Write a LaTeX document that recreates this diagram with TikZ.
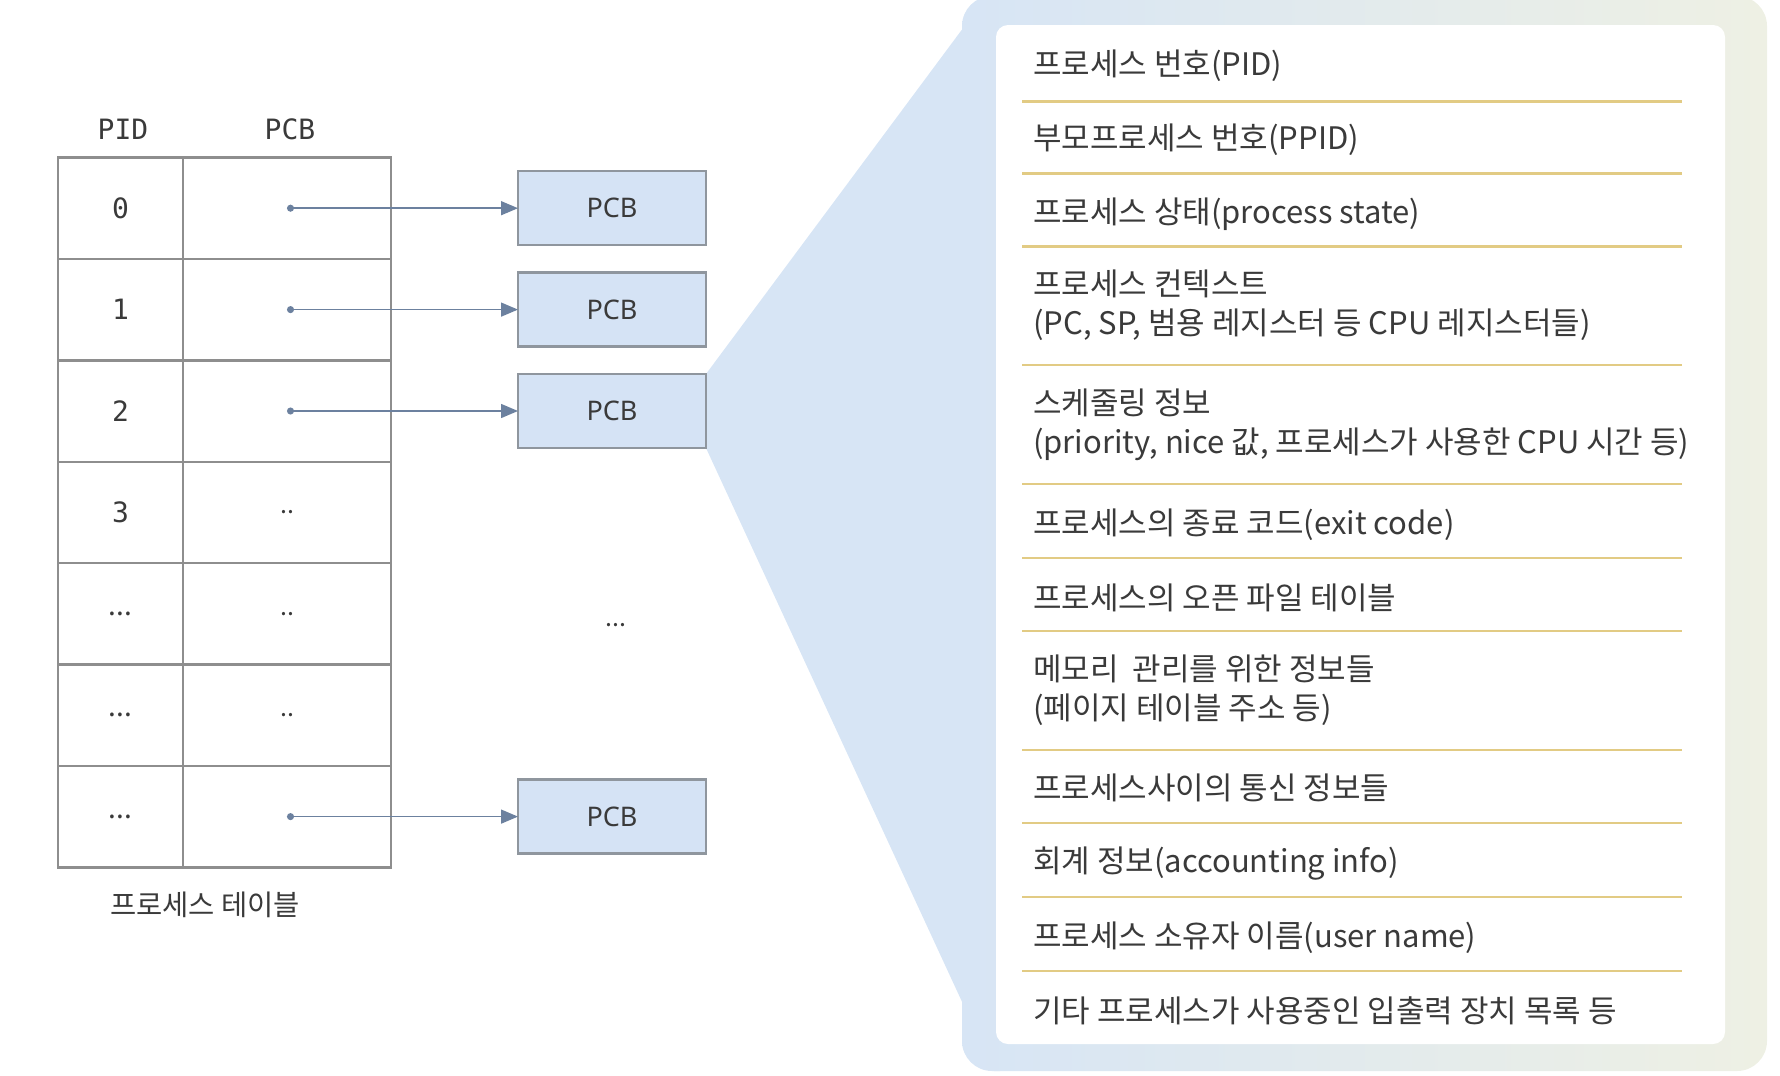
\documentclass[tikz,border=0pt]{standalone}
\usepackage{fontspec}
\setmainfont{Noto Sans CJK KR}
\newfontfamily\monofont{DejaVu Sans Mono}
\newfontfamily\boxfont{Noto Sans}
\usetikzlibrary{arrows.meta, positioning, backgrounds}
\definecolor{tablegray}{HTML}{8E8E8E}
\definecolor{pcbfill}{HTML}{D5E3F5}
\definecolor{pcbdraw}{HTML}{8F969E}
\definecolor{arrowblue}{HTML}{6C819F}
\definecolor{funnelblue}{HTML}{D7E5F5}
\definecolor{cream}{HTML}{EEF0E4}
\definecolor{dividergold}{HTML}{E2CB84}
\definecolor{ink}{HTML}{3A3A3A}

\begin{document}
\begin{tikzpicture}[
    x=1pt, y=-1pt,
    node distance=0pt,
    cell/.style={rectangle, draw=tablegray, line width=2.4pt, minimum height=101.4pt, inner sep=0pt, outer sep=0pt, text=ink},
    pidcell/.style={cell, minimum width=125pt, font=\monofont\fontsize{28}{30}\selectfont},
    ptrcell/.style={cell, minimum width=208pt, font=\fontsize{25}{30}\selectfont},
    head/.style={font=\monofont\fontsize{28}{30}\selectfont, text=ink},
    pcb/.style={rectangle, draw=pcbdraw, fill=pcbfill, line width=2.4pt, minimum width=188pt, minimum height=74pt, outer sep=0pt, font=\boxfont\fontsize{27}{30}\selectfont, text=ink},
    arr/.style={{Circle[length=7pt]}-{Triangle[length=17pt, width=14pt]}, line width=1.5pt, draw=arrowblue, color=arrowblue},
    item/.style={anchor=west, align=left, inner sep=0pt, font=\fontsize{31}{39}\selectfont, text=ink},
    divider/.style={draw=dividergold, line width=2.6pt}
]
\useasboundingbox (0,0) rectangle (1780,1076);

% Process table
\node[pidcell] (pid0) at (120.5,208.2) {0};
\node[pidcell, below=of pid0] (pid1) {1};
\node[pidcell, below=of pid1] (pid2) {2};
\node[pidcell, below=of pid2] (pid3) {3};
\node[pidcell, below=of pid3] (pid4) {\rmfamily ...};
\node[pidcell, below=of pid4] (pid5) {\rmfamily ...};
\node[pidcell, below=of pid5] (pid6) {\rmfamily ...};

\node[ptrcell, right=of pid0] (ptr0) {};
\node[ptrcell, right=of pid1] (ptr1) {};
\node[ptrcell, right=of pid2] (ptr2) {};
\node[ptrcell, right=of pid3] (ptr3) {..};
\node[ptrcell, right=of pid4] (ptr4) {..};
\node[ptrcell, right=of pid5] (ptr5) {..};
\node[ptrcell, right=of pid6] (ptr6) {};

\node[head] (hpid) at (123,129) {PID};
\node[head] (hpcb) at (290,129) {PCB};

% PCBs
\node[pcb, right=127pt of ptr0] (box0) {PCB};
\node[pcb, right=127pt of ptr1] (box1) {PCB};
\node[pcb, right=127pt of ptr2] (box2) {PCB};
\node[pcb, right=127pt of ptr6] (box6) {PCB};
\node[font=\fontsize{25}{30}\selectfont, text=ink] (more) at (616,625) {...};

% Arrows
\draw[arr] (ptr0.center) -- (box0);
\draw[arr] (ptr1.center) -- (box1);
\draw[arr] (ptr2.center) -- (box2);
\draw[arr] (ptr6.center) -- (box6);

% Labels
\node[font=\fontsize{28.5}{30}\selectfont, text=ink] (tablename) at (205,905) {프로세스 테이블};

% PCB detail panel
\begin{scope}[on background layer]
\fill[funnelblue] (box2.north east) -- (975,12) -- (1000,-4) -- (1000,1071) -- (994,1071) -- (box2.south east) -- cycle;
\shade[left color=funnelblue, right color=cream, rounded corners=30pt] (962,-4) rectangle (1767,1071);
\fill[white, rounded corners=12pt] (996,25) rectangle (1725,1044);
\end{scope}

\node[item] (f1) at (1033,66) {프로세스 번호(PID)};
\node[item] (f2) at (1033,140) {부모프로세스 번호(PPID)};
\node[item] (f3) at (1033,214) {프로세스 상태(process state)};
\node[item] (f4) at (1033,305.5) {프로세스 컨텍스트\\(PC, SP, 범용 레지스터 등 CPU 레지스터들)};
\node[item] (f5) at (1033,424.5) {스케줄링 정보\\(priority, nice 값, 프로세스가 사용한 CPU 시간 등)};
\node[item] (f6) at (1033,525) {프로세스의 종료 코드(exit code)};
\node[item] (f7) at (1033,598) {프로세스의 오픈 파일 테이블};
\node[item] (f8) at (1033,690) {메모리~~관리를 위한 정보들\\(페이지 테이블 주소 등)};
\node[item] (f9) at (1033,788) {프로세스사이의 통신 정보들};
\node[item] (f10) at (1033,864) {회계 정보(accounting info)};
\node[item] (f11) at (1033,938) {프로세스 소유자 이름(user name)};
\node[item] (f12) at (1033,1011) {기타 프로세스가 사용중인 입출력 장치 목록 등};

\draw[divider] (1022,101.5) -- (1682,101.5);
\draw[divider] (1022,173.4) -- (1682,173.4);
\draw[divider] (1022,246.5) -- (1682,246.5);
\draw[divider] (1022,365) -- (1682,365);
\draw[divider] (1022,484) -- (1682,484);
\draw[divider] (1022,558) -- (1682,558);
\draw[divider] (1022,631) -- (1682,631);
\draw[divider] (1022,750) -- (1682,750);
\draw[divider] (1022,823) -- (1682,823);
\draw[divider] (1022,897) -- (1682,897);
\draw[divider] (1022,971) -- (1682,971);

\end{tikzpicture}
\end{document}
